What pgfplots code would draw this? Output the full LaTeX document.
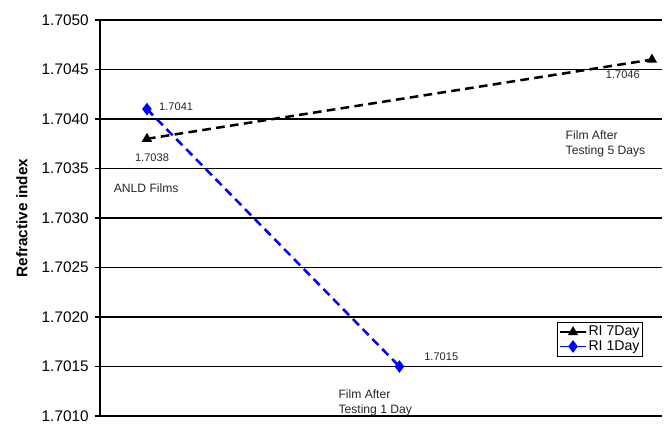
\documentclass[border=0pt]{standalone}
\usepackage{pgfplots}
\pgfplotsset{compat=1.18}
\usepackage{fontspec}
\setmainfont{Liberation Sans}
\definecolor{riblue}{RGB}{0,0,255}

\begin{document}
\begin{tikzpicture}
% fixed canvas: 1px = 0.75pt
\path[use as bounding box] (-75pt,-6.75pt) rectangle (423pt,312pt);
\begin{axis}[
  at={(0,0)}, anchor=south west,
  scale only axis,
  width=421.5pt, height=297pt,
  xmin=0.814, xmax=3.04,
  ymin=1.7010, ymax=1.7050,
  ytick={1.7010,1.7015,...,1.7050},
  xtick=\empty,
  ymajorgrids,
  grid style={black, line width=1pt},
  axis x line*=bottom,
  axis y line*=left,
  axis line style={black, line width=1.2pt},
  tick align=outside,
  major tick length=4pt,
  tick style={black, line width=0.9pt},
  yticklabel style={font=\fontsize{11.5}{13}\selectfont, xshift=-1pt,
    /pgf/number format/fixed, /pgf/number format/fixed zerofill,
    /pgf/number format/precision=4, /pgf/number format/assume math mode=true},
  legend style={at={(axis description cs:0.966,0.149)}, anchor=south east,
    font=\fontsize{10.6}{11}\selectfont, draw=black, line width=1pt,
    inner sep=1pt, row sep=-2pt, column sep=0pt,
    nodes={inner xsep=1pt, inner ysep=2pt}, legend cell align=left},
  legend image code/.code={%
    \draw[#1, solid, line width=1.2pt] (0pt,0pt) -- (20pt,0pt);
    \path[#1, solid] plot coordinates {(10pt,0pt)};},
  clip=false,
]
\addplot[black, line width=1.9pt, dash pattern=on 6.5pt off 4pt,
  mark=triangle*, mark size=2.6pt, mark options={solid}]
  coordinates {(1,1.7038) (3,1.7046)};
\addlegendentry{RI 7Day}
\addplot[riblue, line width=1.9pt, dash pattern=on 6.5pt off 4pt,
  mark=diamond*, mark size=3.2pt, mark options={solid}]
  coordinates {(1,1.7041) (2,1.7015)};
\addlegendentry{RI 1Day}

% value labels
\begin{scope}[every node/.style={font=\fontsize{8.3}{9}\selectfont, text=black!85}]
\node[anchor=west] at (axis cs:1.03,1.70412) {1.7041};
\node[anchor=north] at (axis cs:1.02,1.70370) {1.7038};
\node[anchor=north] at (axis cs:2.885,1.70453) {1.7046};
\node[anchor=south west] at (axis cs:2.08,1.70151) {1.7015};
\end{scope}

% annotations
\begin{scope}[every node/.style={font=\fontsize{9.1}{11}\selectfont, text=black!85, align=left}]
\node[anchor=west] at (axis cs:0.85,1.70330) {ANLD Films};
\node[anchor=north west] at (axis cs:2.64,1.70393) {Film After\\Testing 5 Days};
\node[anchor=north west] at (axis cs:1.74,1.70131) {Film After\\Testing 1 Day};
\end{scope}
\end{axis}
% axis title on the left
\node[rotate=90, font=\bfseries\fontsize{11.5}{13}\selectfont] at (-58.5pt,148.5pt) {Refractive index};
\end{tikzpicture}
\end{document}
